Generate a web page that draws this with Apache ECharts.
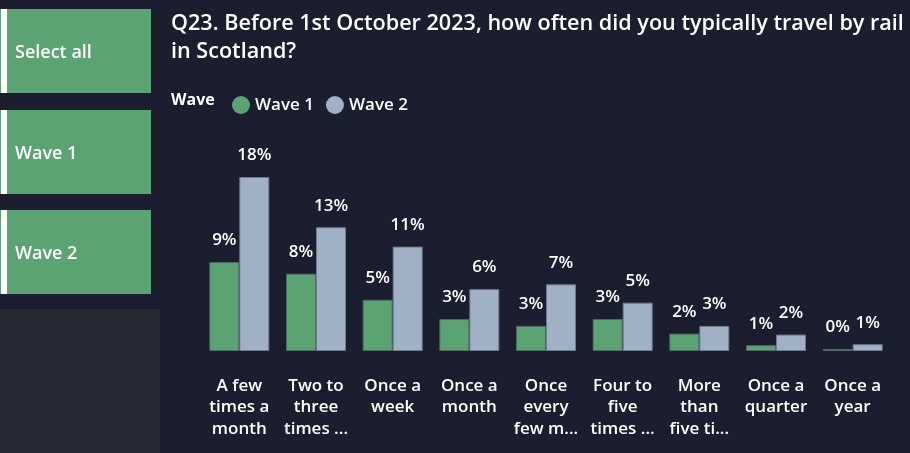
<!DOCTYPE html>
<html>
<head>
<meta charset="utf-8">
<script src="https://cdn.jsdelivr.net/npm/echarts@6/dist/echarts.min.js"></script>
<style>
html,body{margin:0;padding:0;background:#1a1e2e;}
#chart{width:910px;height:453px;}
</style>
</head>
<body>
<div id="chart"></div>
<script>
const categories = [
  "A few\ntimes a\nmonth",
  "Two to\nthree\ntimes ...",
  "Once a\nweek",
  "Once a\nmonth",
  "Once\nevery\nfew m...",
  "Four to\nfive\ntimes ...",
  "More\nthan\nfive ti...",
  "Once a\nquarter",
  "Once a\nyear"
];
const wave1 = [9.2, 8.0, 5.3, 3.3, 2.6, 3.3, 1.8, 0.6, 0.2];
const wave2 = [18.0, 12.8, 10.8, 6.4, 6.9, 5.0, 2.6, 1.7, 0.7];
const seriesNames = ["Wave 1", "Wave 2"];
const buttons = ["Select all", "Wave 1", "Wave 2"];

const FONT = "'Open Sans'";
const GREEN = "#5ba372";
const GRAY = "#a0b0c5";

const chart = echarts.init(document.getElementById('chart'));

const btnTops = [9, 110, 210];
const graphics = [];
buttons.forEach((b, i) => {
  graphics.push({type:'rect', left:0, top:btnTops[i], shape:{width:151, height:84}, style:{fill:GREEN}});
  graphics.push({type:'rect', left:1, top:btnTops[i], shape:{width:6, height:84}, style:{fill:'#ffffff'}});
  graphics.push({type:'text', x:15, y:btnTops[i]+44, style:{text:b, fill:'#ffffff', font:'600 18px ' + FONT, textVerticalAlign:'middle'}});
});
graphics.push({type:'rect', left:0, top:309, shape:{width:160, height:144}, style:{fill:'#262833'}});
graphics.push({type:'text', x:171, y:100, style:{text:'Wave', fill:'#ffffff', font:'bold 16px ' + FONT, textVerticalAlign:'middle'}});

const labelCfg = {
  show: true, position: 'top', distance: 13,
  color: '#ffffff', fontFamily: FONT, fontSize: 17, fontWeight: 600,
  formatter: p => Math.round(p.value) + '%'
};

chart.setOption({
  backgroundColor: '#1a1e2e',
  animation: false,
  title: {
    text: 'Q23. Before 1st October 2023, how often did you typically travel by rail\nin Scotland?',
    left: 166, top: 5,
    textStyle: {color:'#ffffff', fontFamily: FONT, fontSize: 21.6, fontWeight: 600, lineHeight: 28}
  },
  legend: {
    left: 227, top: 91,
    icon: 'circle', itemWidth: 18, itemHeight: 18, itemGap: 12,
    itemStyle: {borderWidth: 0},
    textStyle: {color:'#ffffff', fontFamily: FONT, fontSize: 17, fontWeight: 600},
    data: seriesNames
  },
  graphic: graphics,
  grid: {left: 201, right: 19, top: 157.67, bottom: 102},
  xAxis: {
    type: 'category', data: categories,
    axisLine: {show:false}, axisTick: {show:false},
    axisLabel: {color:'#ffffff', fontFamily: FONT, fontSize: 17, fontWeight: 600, lineHeight: 21.5, margin: 24, interval: 0}
  },
  yAxis: {
    type: 'value', min: 0, max: 20, show: false,
    splitLine: {show:false}
  },
  series: [
    {name: seriesNames[0], type:'bar', data: wave1, barWidth: 30, barGap: '0%',
     itemStyle:{color: GREEN, borderColor:'#4f6a63', borderWidth:1}, label: labelCfg},
    {name: seriesNames[1], type:'bar', data: wave2, barWidth: 30, barGap: '0%',
     itemStyle:{color: GRAY, borderColor:'#6f7b8c', borderWidth:1}, label: labelCfg}
  ]
});
</script>
</body>
</html>
